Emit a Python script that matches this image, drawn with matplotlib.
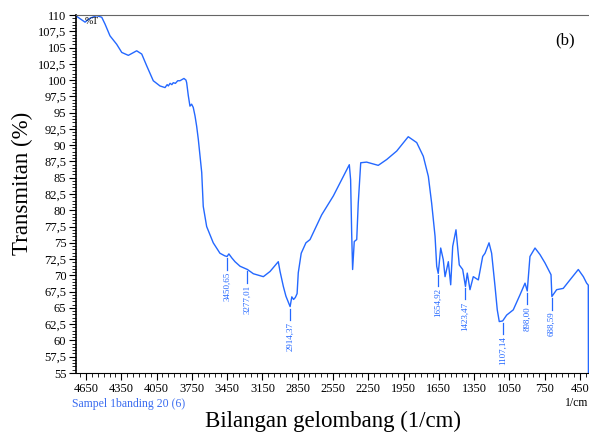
import numpy as np
import matplotlib
matplotlib.use("Agg")
import matplotlib.pyplot as plt
from matplotlib.ticker import FixedLocator, MultipleLocator, AutoMinorLocator, FuncFormatter

# spektrum FTIR
wavenumber = [4730, 4658, 4616, 4559, 4516, 4488, 4446, 4389, 4346, 4290, 4219, 4176,
              4134, 4078, 4021, 3978, 3960, 3950, 3935, 3920, 3908, 3890, 3870, 3851, 3817,
              3800, 3794, 3780, 3766, 3752, 3738, 3723, 3709, 3695, 3666, 3653, 3624, 3568,
              3511, 3470, 3450.65, 3435, 3411, 3383, 3340, 3277.01, 3227, 3142, 3085, 3015,
              3000, 2972, 2950, 2914.37, 2900, 2885, 2870, 2855, 2845, 2820, 2780, 2745,
              2646, 2547, 2462, 2411, 2400, 2391, 2383, 2369, 2348, 2335, 2314, 2264, 2165,
              2093, 2008, 1910, 1838, 1782, 1739, 1711, 1682, 1668, 1654.92, 1634, 1612,
              1597, 1569, 1549, 1532, 1504, 1476, 1447, 1423.47, 1408, 1385, 1357, 1314,
              1277, 1257, 1223, 1201, 1172, 1153, 1136, 1107.14, 1073, 1017, 960, 917,
              898.00, 875, 832, 790, 747, 696, 688.59, 648, 592, 535, 464, 421, 393, 379, 378]
transmitan = [109.8, 108.9, 109.5, 109.9, 109.65, 108.6, 106.8, 105.5, 104.25, 103.8, 104.5, 104.0,
              102.2, 99.9, 99.1, 98.85, 99.3, 99.1, 99.5, 99.3, 99.6, 99.5, 99.9, 99.9, 100.25,
              100.0, 99.6, 97.6, 96.0, 96.3, 95.8, 94.5, 92.9, 90.9, 85.8, 80.6, 77.5, 75.0,
              73.4, 73.0, 72.9, 73.3, 72.7, 72.1, 71.4, 70.9, 70.25, 69.8, 70.6, 72.1,
              70.6, 68.3, 66.8, 65.2, 66.7, 66.3, 66.6, 67.2, 70.4, 73.4, 75.0, 75.5,
              79.3, 82.2, 85.2, 87.0, 84.7, 76.5, 70.9, 75.2, 75.5, 81.1, 87.3, 87.4, 86.9,
              87.8, 89.1, 91.3, 90.4, 88.3, 85.2, 81.1, 76.0, 71.4, 70.3, 74.2, 72.4,
              69.8, 72.1, 68.55, 74.45, 77.0, 71.6, 70.9, 68.3, 70.35, 67.8, 69.8, 69.3,
              72.9, 73.4, 75.0, 73.4, 68.3, 64.7, 62.9, 63.0, 63.9, 64.7, 67.0, 68.8,
              67.6, 72.9, 74.2, 73.2, 71.9, 70.1, 66.75, 67.8, 68.0, 69.3, 70.9, 69.8, 68.8, 68.5, 55.0]

peaks = [3450.65, 3277.01, 2914.37, 1654.92, 1423.47, 1107.14, 898.00, 688.59]
peak_labels = ["3450,65", "3277,01", "2914,37", "1654,92", "1423,47", "1107,14", "898,00", "688,59"]

biru = "#2468ff"

fig = plt.figure(figsize=(5.89, 4.32), dpi=100)
ax = fig.add_axes([76 / 589, 1 - 373 / 432, 1 - 76 / 589, (373 - 15) / 432])

ax.plot(wavenumber, transmitan, color=biru, lw=1.0)

# tanda puncak
for w, lab in zip(peaks, peak_labels):
    t = np.interp(w, wavenumber[::-1], transmitan[::-1])
    ax.plot([w, w], [t - 0.3, t - 2.0], color=biru, lw=0.9)
    ax.text(w, t - 2.3, lab, rotation=90, ha="center", va="top", color=biru,
            fontsize=6.5, family="Liberation Serif")

ax.set_xlim(4735, 373)
ax.set_ylim(55, 110)

ax.xaxis.set_major_locator(FixedLocator(np.arange(450, 4651, 300)))
ax.xaxis.set_minor_locator(MultipleLocator(50))
ax.yaxis.set_major_locator(MultipleLocator(2.5))
ax.yaxis.set_minor_locator(AutoMinorLocator(5))
ax.yaxis.set_major_formatter(FuncFormatter(lambda v, p: f"{v:g}".replace(".", ",")))

ax.tick_params(which="major", length=5, width=0.8, labelsize=9, pad=2)
ax.tick_params(which="minor", length=3, width=0.6)
for lab in ax.get_xticklabels() + ax.get_yticklabels():
    lab.set_family("Liberation Serif")

ax.spines["right"].set_visible(False)
ax.spines["top"].set_color("#666666")
ax.spines["left"].set_linewidth(1.2)

fig.text(85 / 589, 1 - 22 / 432, "%T", fontsize=7, family="Liberation Serif", va="center")
fig.text(565 / 589, 1 - 40 / 432, "(b)", fontsize=12, family="Liberation Serif",
         ha="center", va="center")
fig.text(72 / 589, 1 - 404 / 432, "Sampel 1banding 20 (6)", fontsize=8.5, color="#3a6cf0",
         family="Liberation Serif", va="center")
fig.text(588 / 589, 1 - 403 / 432, "1/cm", fontsize=8.5, family="Liberation Serif",
         ha="right", va="center")
fig.text(333 / 589, 1 - 421 / 432, "Bilangan gelombang (1/cm)", fontsize=16.5,
         family="Liberation Serif", ha="center", va="center")
fig.text(22 / 589, 1 - 183 / 432, "Transmitan (%)", fontsize=16.5, rotation=90,
         family="Liberation Serif", ha="center", va="center")

fig.savefig("out.png", dpi=100)
